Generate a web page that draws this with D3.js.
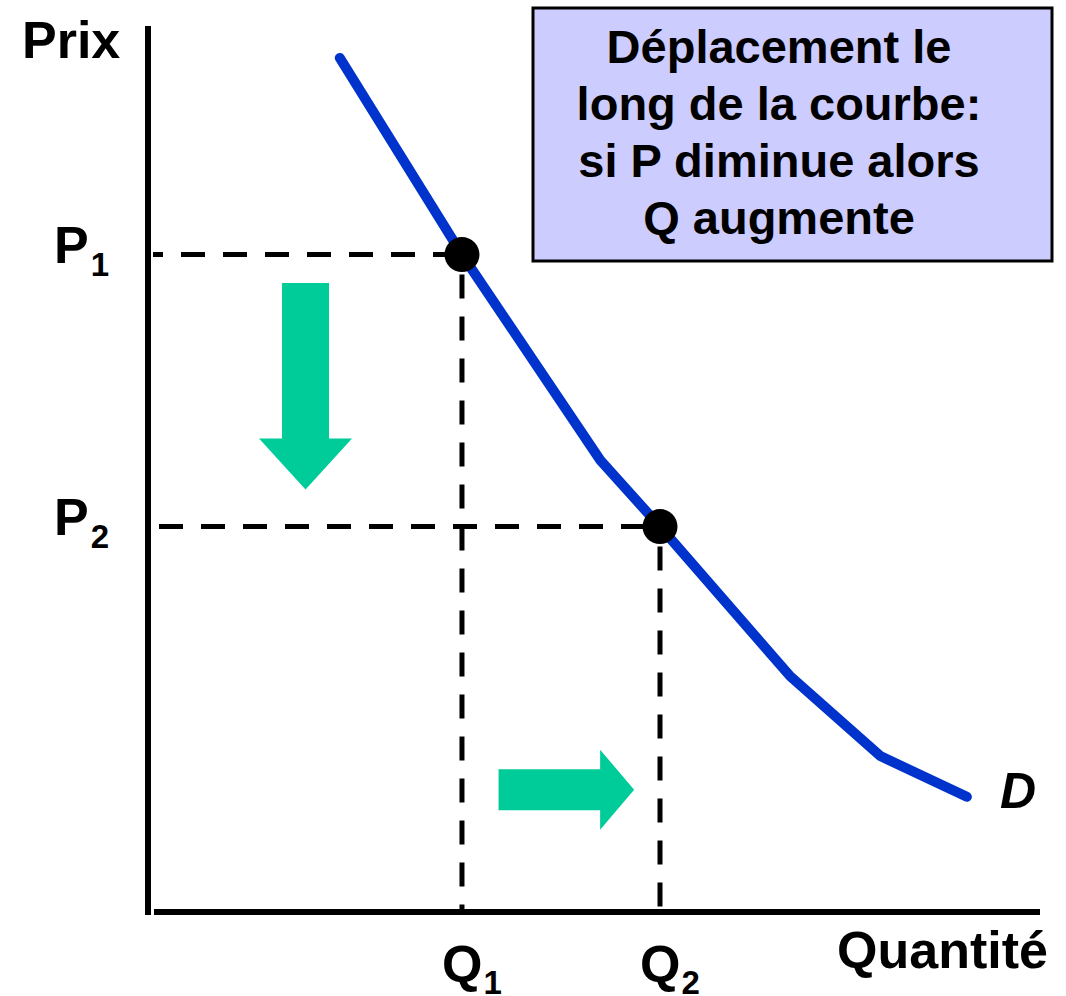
<!DOCTYPE html>
<html>
<head>
<meta charset="utf-8">
<script src="https://cdn.jsdelivr.net/npm/d3@7"></script>
<style>
  body { margin: 0; background: #fff; }
  text { font-family: "Liberation Sans", Arial, sans-serif; font-weight: bold; fill: #000; }
</style>
</head>
<body>
<svg id="chart"></svg>
<script>
// demand curve, in quantity / price units (0-100)
const curveQ = [21.5, 35.2, 50.7, 57.4, 72.0, 82.1, 91.8];
const curveP = [96.4, 74.2, 51.0, 43.5, 26.6, 17.6, 13.0];

// the two points on the curve
const pointLabels = ["1", "2"];
const pointQ = [35.2, 57.4];
const pointP = [74.2, 43.5];

// arrows (start, end)
const downArrowQ = 17.66, downArrowP = [71.0, 47.7];
const rightArrowP = 13.8, rightArrowQ = [39.3, 54.5];

const boxLines = ["Déplacement le", "long de la courbe:", "si P diminue alors", "Q augmente"];

const width = 1066, height = 996;
const svg = d3.select("#chart").attr("width", width).attr("height", height);

const x = d3.scaleLinear().domain([0, 100]).range([148, 1040]);
const y = d3.scaleLinear().domain([0, 100]).range([912, 26]);

// axes
svg.append("line")
    .attr("x1", x(0)).attr("x2", x(0))
    .attr("y1", y(100)).attr("y2", y(0) + 3)
    .attr("stroke", "black").attr("stroke-width", 6);
svg.append("line")
    .attr("x1", x(0) + 6).attr("x2", x(100))
    .attr("y1", y(0)).attr("y2", y(0))
    .attr("stroke", "black").attr("stroke-width", 6);

// dashed guides
function dashed(x1, y1, x2, y2, offset) {
    svg.append("line")
        .attr("x1", x1).attr("y1", y1).attr("x2", x2).attr("y2", y2)
        .attr("stroke", "black").attr("stroke-width", 5)
        .attr("stroke-dasharray", "24,18")
        .attr("stroke-dashoffset", offset);
}
dashed(x(0) + 5, y(pointP[0]), x(pointQ[0]), y(pointP[0]), 14);
dashed(x(0) + 11, y(pointP[1]), x(pointQ[1]), y(pointP[1]), 0);
pointQ.forEach((q, i) => {
    dashed(x(q), y(pointP[i]) + 20, x(q), y(0), 0);
});

// demand curve
const line = d3.line()
    .x((d, i) => x(curveQ[i]))
    .y((d, i) => y(curveP[i]));
svg.append("path")
    .datum(curveQ)
    .attr("d", line)
    .attr("fill", "none")
    .attr("stroke", "#0033CC")
    .attr("stroke-width", 10)
    .attr("stroke-linecap", "round")
    .attr("stroke-linejoin", "round");

// points
svg.selectAll(".pt")
    .data(pointQ)
    .enter().append("circle")
        .attr("class", "pt")
        .attr("cx", d => x(d))
        .attr("cy", (d, i) => y(pointP[i]))
        .attr("r", 17.5)
        .attr("fill", "black");

// green arrows
const green = "#00CC99";
function downArrow(cx, yTop, yTip) {
    const sw = 23.5, hw = 46.5, hh = 51;
    const pts = [[cx - sw, yTop], [cx + sw, yTop], [cx + sw, yTip - hh], [cx + hw, yTip - hh],
                 [cx, yTip], [cx - hw, yTip - hh], [cx - sw, yTip - hh]];
    svg.append("polygon").attr("points", pts.join(" ")).attr("fill", green);
}
function rightArrow(cy, xStart, xTip) {
    const sw = 20.5, hw = 40, hl = 34;
    const pts = [[xStart, cy - sw], [xTip - hl, cy - sw], [xTip - hl, cy - hw], [xTip, cy],
                 [xTip - hl, cy + hw], [xTip - hl, cy + sw], [xStart, cy + sw]];
    svg.append("polygon").attr("points", pts.join(" ")).attr("fill", green);
}
downArrow(x(downArrowQ), y(downArrowP[0]), y(downArrowP[1]));
rightArrow(y(rightArrowP), x(rightArrowQ[0]), x(rightArrowQ[1]));

// axis labels
svg.append("text").attr("x", 22).attr("y", 58).style("font-size", "52px").text("Prix");
svg.append("text").attr("x", 1048).attr("y", 968).attr("text-anchor", "end")
    .style("font-size", "52px").text("Quantité");
svg.append("text").attr("x", 1000).attr("y", 808)
    .style("font-size", "50px").style("font-style", "italic").text("D");

pointLabels.forEach((s, i) => {
    const tp = svg.append("text").attr("x", 54).attr("y", y(pointP[i]) + 8)
        .style("font-size", "52px").text("P");
    tp.append("tspan").attr("dx", 2).attr("dy", 13).style("font-size", "33px").text(s);

    const tq = svg.append("text").attr("x", x(pointQ[i]) - 20).attr("y", 982)
        .style("font-size", "52px").text("Q");
    tq.append("tspan").attr("dx", 1).attr("dy", 12).style("font-size", "33px").text(s);
});

// text box
svg.append("rect")
    .attr("x", 533).attr("y", 8).attr("width", 519).attr("height", 253)
    .attr("fill", "#CCCCFF").attr("stroke", "black").attr("stroke-width", 3);
svg.selectAll(".box")
    .data(boxLines)
    .enter().append("text")
        .attr("class", "box")
        .attr("x", 779)
        .attr("y", (d, i) => 63 + i * 57)
        .attr("text-anchor", "middle")
        .style("font-size", "47px")
        .text(d => d);
</script>
</body>
</html>
